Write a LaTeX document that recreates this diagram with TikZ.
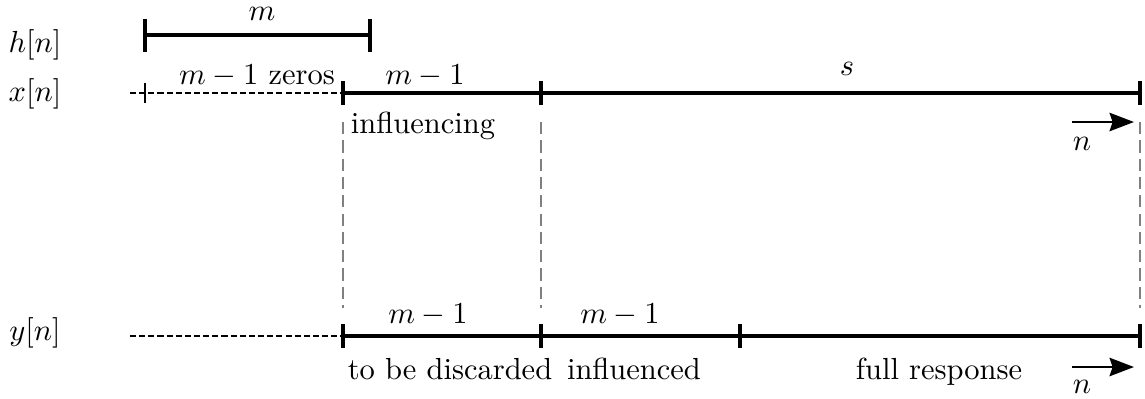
\documentclass[tikz,border=0pt]{standalone}
\usetikzlibrary{arrows.meta,calc}
\begin{document}
\begin{tikzpicture}[x=0.3279pt,y=-0.3279pt,
  seg/.style={line width=1.2pt},
  tickmark/.style={line width=1.2pt},
  zerosline/.style={line width=0.6pt,dash pattern=on 2pt off 1pt},
  guide/.style={line width=0.6pt,gray,dash pattern=on 4pt off 2pt},
  dirarrow/.style={line width=0.9pt,-{Stealth[length=8pt,width=6pt,inset=1pt]}},
  lbl/.style={inner sep=0pt,anchor=base}]
\useasboundingbox (0,0) rectangle (1145,398);

% row labels
\node[inner sep=0pt] (hl) at (35,45) {$h[n]$};
\node[inner sep=0pt] (xl) at (35,94) {$x[n]$};
\node[inner sep=0pt] (yl) at (35,333) {$y[n]$};

% h[n] bar
\coordinate (h0) at (145,35);
\coordinate (h1) at (370,35);
\draw[seg] (h0) -- (h1);
\draw[tickmark] (h0) ++(0,-16) -- ++(0,33);
\draw[tickmark] (h1) ++(0,-16) -- ++(0,33);
\node[lbl] (hm) at (262,20) {$m$};

% x[n] axis
\coordinate (xs) at (130,93);
\coordinate (x0) at (145,93);
\coordinate (x1) at (343,93);
\coordinate (x2) at (541,93);
\coordinate (x3) at (1140,93);
\draw[zerosline] (xs) -- (x1);
\draw[line width=0.8pt] (x0) ++(0,-10) -- ++(0,20);
\draw[seg] (x1) -- (x3);
\foreach \p in {x1,x2,x3} \draw[tickmark] (\p) ++(0,-12) -- ++(0,24);
\node[lbl] (xz) at (257,84) {$m-1$ zeros};
\node[lbl] (xm) at (425,84) {$m-1$};
\node[lbl] (xsn) at (847,75) {$s$};
\node[lbl] (xinf) at (423,133) {influencing};

% direction arrow (top)
\coordinate (a0) at (1072,122);
\coordinate (a1) at (1134,122);
\draw[dirarrow] (a0) -- (a1);
\node[lbl] (an) at (1082,150) {$n$};

% y[n] axis
\coordinate (ys) at (130,336);
\coordinate (y1) at (343,336);
\coordinate (y2) at (541,336);
\coordinate (y3) at (740,336);
\coordinate (y4) at (1140,336);
\draw[zerosline] (ys) -- (y1);
\draw[seg] (y1) -- (y4);
\foreach \p in {y1,y2,y3,y4} \draw[tickmark] (\p) ++(0,-12) -- ++(0,24);
\node[lbl] (ym1) at (428,323) {$m-1$};
\node[lbl] (ym2) at (620,323) {$m-1$};
\node[lbl] (yd) at (450,379) {to be discarded};
\node[lbl] (yi) at (634,379) {influenced};
\node[lbl] (yf) at (939,379) {full response};

% direction arrow (bottom)
\coordinate (b0) at (1072,367);
\coordinate (b1) at (1134,367);
\draw[dirarrow] (b0) -- (b1);
\node[lbl] (bn) at (1082,393) {$n$};

% guide lines
\draw[guide] ($(x1)+(0,29)$) -- ($(y1)+(0,-28)$);
\draw[guide] ($(x2)+(0,29)$) -- ($(y2)+(0,-28)$);
\draw[guide] ($(x3)+(0,29)$) -- ($(y4)+(0,-28)$);
\end{tikzpicture}
\end{document}
